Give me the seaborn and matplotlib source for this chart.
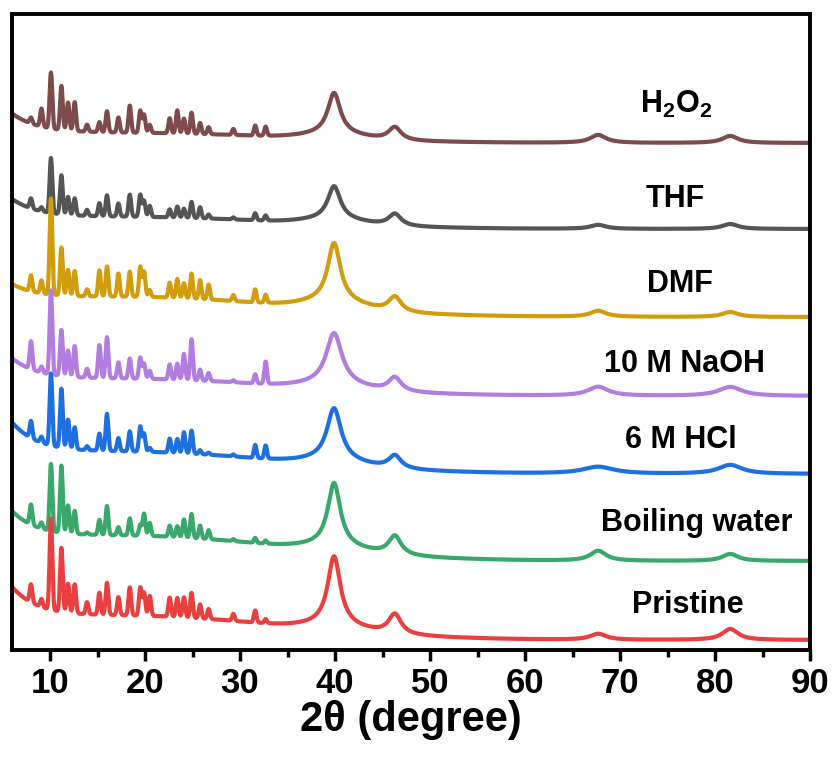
import numpy as np
import pandas as pd
import seaborn as sns
import matplotlib.pyplot as plt
from matplotlib.ticker import MultipleLocator

# samples, listed from the top trace down
samples = ["H$_2$O$_2$", "THF", "DMF", "10 M NaOH", "6 M HCl", "Boiling water", "Pristine"]
colors = ["#7d4b4b", "#555555", "#d19d0c", "#b27ce0", "#1e6fe0", "#3aa86a", "#ea3f3f"]

# vertical offset of each trace (baseline at 90 deg)
offsets = [507, 421, 333, 254, 176, 89, 10]

# background: low-angle rise, broad amorphous hump, hump under the 40 deg reflection
low_angle_rise = [22, 21, 18, 25, 35, 31, 35]
amorphous = [10, 12, 20, 17, 22, 25, 24]
hump_40 = [5, 5, 8, 5, 5, 5, 5]

# sharp framework reflections (2theta) and their heights per sample
mof_pos = [8.0, 9.1, 10.1, 11.2, 11.9, 12.6, 13.9, 15.2, 16.0, 17.2, 18.4, 19.5,
           19.9, 20.5, 22.6, 23.4, 24.1, 24.9, 25.8, 26.7, 29.3, 31.6, 32.7]
mof_h2o2 = [6, 18, 56, 44, 28, 29, 7, 10, 21, 15, 27, 22, 18, 8, 15, 23, 15, 21, 11, 7, 6, 10, 9]
mof_thf = [10, 4, 55, 39, 18, 17, 6, 13, 21, 13, 22, 22, 16, 11, 8, 11, 9, 16, 11, 4, 2, 7, 5]
mof_dmf = [16, 13, 96, 48, 26, 25, 7, 26, 30, 23, 25, 30, 25, 7, 15, 19, 15, 25, 19, 15, 6, 13, 8]
mof_naoh = [28, 6, 84, 46, 26, 31, 9, 33, 41, 16, 20, 21, 15, 8, 15, 16, 26, 41, 11, 8, 2, 9, 22]
mof_hcl = [17, 6, 72, 59, 29, 22, 4, 17, 37, 13, 20, 25, 18, 4, 14, 14, 21, 23, 4, 2, 2, 13, 13]
mof_water = [20, 6, 67, 67, 28, 23, 2, 15, 29, 8, 17, 11, 22, 13, 11, 11, 18, 24, 13, 9, 2, 5, 3]
mof_pristine = [18, 8, 91, 64, 29, 29, 12, 22, 32, 18, 28, 28, 23, 20, 19, 19, 20, 25, 14, 10, 7, 12, 4]
mof_heights = [mof_h2o2, mof_thf, mof_dmf, mof_naoh, mof_hcl, mof_water, mof_pristine]

# broad metal reflections
metal_pos = [39.9, 46.3, 67.7, 81.6]
metal_heights = [
    [41, 13, 8, 7],
    [33, 12, 4, 5],
    [58, 15, 6, 5],
    [51, 14, 9, 9],
    [52, 13, 7, 9],
    [63, 19, 10, 7],
    [69, 20, 6, 11],
]
metal_widths = [
    [0.8, 0.8, 1.0, 1.0],
    [0.8, 0.8, 1.0, 1.0],
    [0.8, 0.8, 1.0, 1.0],
    [1.0, 0.8, 1.3, 1.5],
    [0.9, 0.8, 2.0, 1.5],
    [0.8, 0.8, 1.0, 1.0],
    [0.8, 0.8, 1.0, 1.0],
]

label_x = [75.9, 75.8, 76.3, 76.8, 76.4, 78.1, 77.1]
label_y = [537, 443, 358, 278, 202, 119, 37]


def gauss(x, c, s):
    return np.exp(-0.5 * ((x - c) / s) ** 2)


def lorentz(x, c, g):
    return 1.0 / (1.0 + ((x - c) / g) ** 2)


two_theta = np.arange(6, 90.001, 0.02)
frames = []
for i, name in enumerate(samples):
    y = np.full_like(two_theta, offsets[i], dtype=float)
    y += low_angle_rise[i] * np.exp(-(two_theta - 6) / 3.0)
    y += amorphous[i] * gauss(two_theta, 18, 16)
    y += hump_40[i] * gauss(two_theta, 40, 3)
    for p, h in zip(mof_pos, mof_heights[i]):
        y += h * gauss(two_theta, p, 0.14)
    for p, h, w in zip(metal_pos, metal_heights[i], metal_widths[i]):
        y += h * lorentz(two_theta, p, w)
    frames.append(pd.DataFrame({"two_theta": two_theta, "intensity": y, "sample": name}))
df = pd.concat(frames, ignore_index=True)

sns.set_style("ticks")
plt.rcParams["font.family"] = ["Liberation Sans", "DejaVu Sans"]
plt.rcParams["mathtext.fontset"] = "custom"
plt.rcParams["mathtext.rm"] = "Liberation Sans:bold"
plt.rcParams["mathtext.default"] = "rm"
plt.rcParams["text.color"] = "black"
plt.rcParams["axes.labelcolor"] = "black"
plt.rcParams["axes.edgecolor"] = "black"
plt.rcParams["xtick.color"] = "black"

fig = plt.figure(figsize=(8.36, 7.57), dpi=100)
ax = fig.add_axes([12 / 836, 1 - 650 / 757, 798 / 836, 636 / 757])

sns.lineplot(data=df, x="two_theta", y="intensity", hue="sample", hue_order=samples,
             palette=colors, linewidth=3.0, legend=False, estimator=None, sort=False, ax=ax)

for i, name in enumerate(samples):
    ax.text(label_x[i], label_y[i], name, ha="center", va="baseline",
            fontsize=22, fontweight="bold", color="black")

ax.set_xlim(6, 90)
ax.set_ylim(0, 636)
ax.set_yticks([])
ax.set_ylabel("")
ax.xaxis.set_major_locator(MultipleLocator(10))
ax.xaxis.set_minor_locator(MultipleLocator(5))
ax.tick_params(axis="x", which="major", direction="out", length=8, width=2.5,
               labelsize=25, pad=4, color="black", labelcolor="black")
ax.tick_params(axis="x", which="minor", direction="out", length=5, width=2.5, color="black")
for lab in ax.get_xticklabels():
    lab.set_fontweight("bold")
for s in ax.spines.values():
    s.set_visible(True)
    s.set_linewidth(2.8)
    s.set_color("black")
ax.set_xlabel("2θ (degree)", fontsize=30, fontweight="bold", labelpad=0, color="black")

fig.savefig("out.png", dpi=100)
